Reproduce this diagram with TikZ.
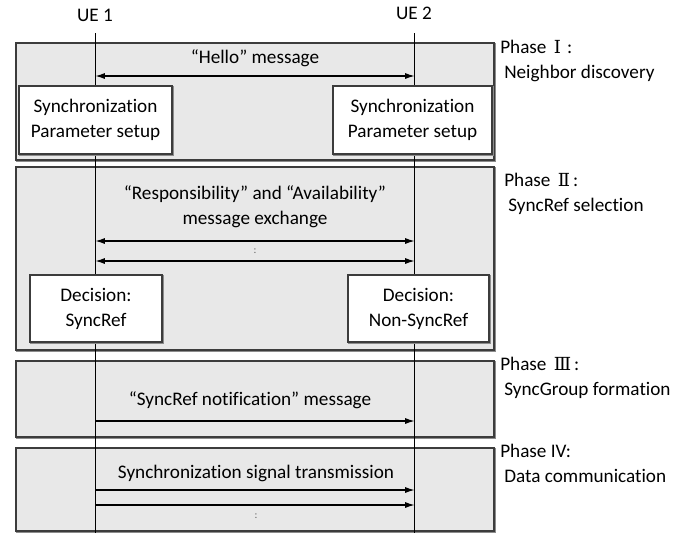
\documentclass[tikz,border=0pt]{standalone}
\usepackage{fontspec}
\setmainfont{Carlito}[Ligatures=NoCommon]
\newfontfamily\numfont{DejaVu Serif}
\usetikzlibrary{arrows.meta}
\definecolor{phaseback}{RGB}{232,232,232}
\definecolor{boxline}{RGB}{60,60,60}

\tikzset{
  shade line/.style={preaction={draw=black!45,line width=1.2pt,transform canvas={shift={(0.7pt,-0.7pt)}}}},
  phasebox/.style={shade line,draw=boxline,fill=phaseback,line width=0.8pt,inner sep=0pt,outer sep=0pt,minimum width=358.5pt},
  actbox/.style={shade line,draw=boxline,fill=white,line width=0.8pt,inner sep=0pt,outer sep=0pt,align=center},
  msg/.style={line width=0.8pt,-{Latex[length=7pt,width=4.5pt]}},
  msgboth/.style={line width=0.8pt,{Latex[length=7pt,width=4.5pt]}-{Latex[length=7pt,width=4.5pt]}},
  dots/.style={font=\fontsize{8}{8}\selectfont,text=black!60},
  phaselabel/.style={anchor=north west,align=left,inner sep=0pt},
}
\newcommand{\phasenum}[1]{{\numfont\fontsize{13.5}{13.5}\selectfont\,#1\,}}

\begin{document}
\begin{tikzpicture}[x=0.75pt,y=-0.75pt,font=\fontsize{14.4}{18.75}\selectfont]
\useasboundingbox (0,0) rectangle (697,533);

% phases
\node [phasebox,minimum height=87.75pt] (phase1) at (255,101.5) {};
\node [phasebox,minimum height=137.25pt] (phase2) at (255,258.5) {};
\node [phasebox,minimum height=57pt] (phase3) at (255,399) {};
\node [phasebox,minimum height=62.25pt] (phase4) at (255,489.5) {};

\node [phaselabel] (lab1) at (500,40)
  {Phase \phasenum{Ⅰ}\,:\\\hspace*{3pt}Neighbor discovery};
\node [phaselabel] (lab2) at (504,173)
  {Phase \phasenum{Ⅱ}:\\\hspace*{3pt}SyncRef selection};
\node [phaselabel] (lab3) at (500,357)
  {Phase \phasenum{Ⅲ}:\\\hspace*{3pt}SyncGroup formation};
\node [phaselabel] (lab4) at (500,444)
  {Phase IV:\\\hspace*{3pt}Data communication};

% lifelines
\node (ue1) at (95,15) {UE 1};
\node (ue2) at (414,13) {UE 2};
\coordinate (ue1top) at (95.5,33);
\coordinate (ue2top) at (414.5,33);
\coordinate (ue1bot) at (95.5,533);
\coordinate (ue2bot) at (414.5,533);
\draw [line width=0.7pt] (ue1top) -- (ue1bot);
\draw [line width=0.7pt] (ue2top) -- (ue2bot);

% phase I
\node (hello) at (255,58) {“Hello” message};
\draw [msgboth] (ue1top |- 0,76) -- (ue2top |- 0,76);
\node [actbox,minimum width=114.75pt,minimum height=51pt] (sync1) at (95.5,120)
  {Synchronization\\Parameter setup};
\node [actbox,minimum width=119.25pt,minimum height=51pt] (sync2) at (412.5,120)
  {Synchronization\\Parameter setup};

% phase II
\node [align=center] (resp) at (255,207) {“Responsibility” and “Availability”\\message exchange};
\draw [msgboth] (ue1top |- 0,241) -- (ue2top |- 0,241);
\node [dots] (dots1) at (255,251) {:};
\draw [msgboth] (ue1top |- 0,261) -- (ue2top |- 0,261);
\node [actbox,minimum width=99pt,minimum height=50.25pt] (dec1) at (96,308.5)
  {Decision:\\SyncRef};
\node [actbox,minimum width=105.75pt,minimum height=50.25pt] (dec2) at (418.5,308.5)
  {Decision:\\Non-SyncRef};

% phase III
\node (notif) at (250,400) {“SyncRef notification” message};
\draw [msg] (ue1top |- 0,421) -- (ue2top |- 0,421);

% phase IV
\node (signal) at (256,473) {Synchronization signal transmission};
\draw [msg] (ue1top |- 0,490) -- (ue2top |- 0,490);
\draw [msg] (ue1top |- 0,505) -- (ue2top |- 0,505);
\node [dots] (dots2) at (256,516) {:};
\end{tikzpicture}
\end{document}
